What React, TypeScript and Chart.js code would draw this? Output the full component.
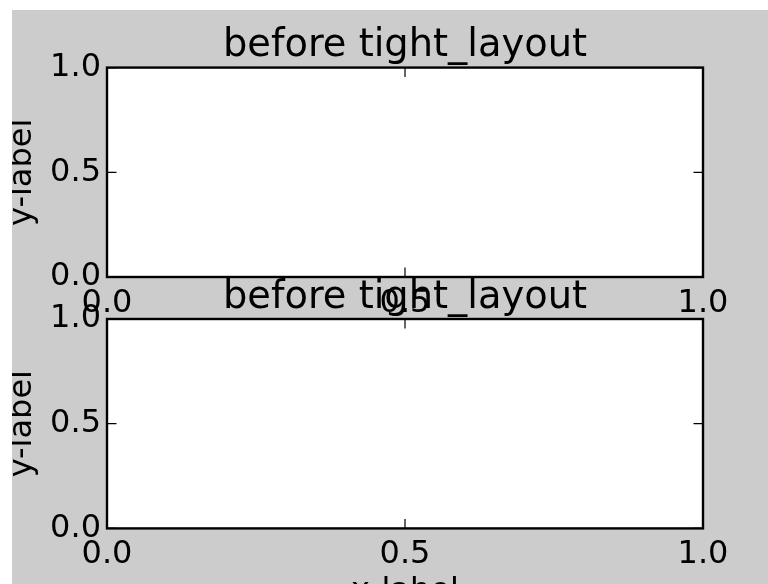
import React, { useEffect, useRef } from 'react';
import { Chart, registerables } from 'chart.js';

Chart.register(...registerables);

// ---- data ----
const titles = ['before tight_layout', 'before tight_layout'];
const xTickValues = [0.0, 0.5, 1.0];
const yTickValues = [0.0, 0.5, 1.0];
const xLimits = [0, 1];
const yLimits = [0, 1];
const xLabel = 'x-label';
const yLabel = 'y-label';
const points: { x: number; y: number }[] = [];

// ---- styling ----
const FONT = '"DejaVu Sans", sans-serif';
const FIG_BG = '#cccccc';
const CANVAS_W = 768;
const CANVAS_H = 620;
const TICK_SIZE = 32;
const TITLE_SIZE = 38.4;

type PanelLayout = { padTop: number; padBottom: number; xAxisH: number; showXLabel: boolean };
const panelLayouts: PanelLayout[] = [
  { padTop: 15.34, padBottom: 293, xAxisH: 60, showXLabel: false },
  { padTop: 266.76, padBottom: 11.6, xAxisH: 90, showXLabel: true },
];

const framePlugin = {
  id: 'mplFrame',
  beforeDraw(chart: any) {
    const { ctx, chartArea: a } = chart;
    ctx.save();
    ctx.fillStyle = '#ffffff';
    ctx.fillRect(a.left, a.top, a.right - a.left, a.bottom - a.top);
    ctx.restore();
  },
  afterDraw(chart: any) {
    const { ctx, chartArea: a, scales } = chart;
    const L = 9.5;
    ctx.save();
    ctx.strokeStyle = '#000';
    ctx.lineWidth = 1.2;
    ctx.beginPath();
    scales.x.ticks.forEach((t: any) => {
      const px = scales.x.getPixelForValue(t.value);
      ctx.moveTo(px, a.bottom);
      ctx.lineTo(px, a.bottom - L);
      ctx.moveTo(px, a.top);
      ctx.lineTo(px, a.top + L);
    });
    scales.y.ticks.forEach((t: any) => {
      const py = scales.y.getPixelForValue(t.value);
      ctx.moveTo(a.left, py);
      ctx.lineTo(a.left + L, py);
      ctx.moveTo(a.right, py);
      ctx.lineTo(a.right - L, py);
    });
    ctx.stroke();
    ctx.lineWidth = 2.4;
    ctx.strokeRect(a.left, a.top, a.right - a.left, a.bottom - a.top);
    ctx.restore();
  },
};

function Panel({ index }: { index: number }) {
  const ref = useRef<HTMLCanvasElement | null>(null);
  useEffect(() => {
    if (!ref.current) return;
    const lay = panelLayouts[index];
    const chart = new Chart(ref.current, {
      type: 'scatter',
      data: {
        datasets: [{ data: points, pointRadius: 0, showLine: false }],
      },
      options: {
        animation: false,
        responsive: false,
        maintainAspectRatio: false,
        devicePixelRatio: 1,
        events: [],
        layout: { padding: { left: 0, right: 77, top: lay.padTop, bottom: lay.padBottom } },
        plugins: {
          legend: { display: false },
          tooltip: { enabled: false },
          title: {
            display: true,
            text: titles[index],
            fullSize: false,
            color: '#000',
            font: { family: FONT, size: TITLE_SIZE, weight: 'normal', lineHeight: 1.1 },
            padding: { top: 0, bottom: 0 },
          },
        },
        scales: {
          x: {
            type: 'linear',
            min: xLimits[0],
            max: xLimits[1],
            grid: { display: false, drawTicks: false },
            border: { display: false },
            afterBuildTicks: (s: any) => {
              s.ticks = xTickValues.map((v) => ({ value: v }));
            },
            afterFit: (s: any) => {
              s.height = lay.xAxisH;
            },
            ticks: {
              color: '#000',
              padding: 7.5,
              autoSkip: false,
              maxRotation: 0,
              font: { family: FONT, size: TICK_SIZE, lineHeight: 1.2 },
              callback: (v: any) => Number(v).toFixed(1),
            },
            title: {
              display: lay.showXLabel,
              text: xLabel,
              color: '#000',
              font: { family: FONT, size: TICK_SIZE, lineHeight: 1.2 },
              padding: { top: 0, bottom: 8 },
            },
          },
          y: {
            type: 'linear',
            min: yLimits[0],
            max: yLimits[1],
            grid: { display: false, drawTicks: false },
            border: { display: false },
            afterBuildTicks: (s: any) => {
              s.ticks = yTickValues.map((v) => ({ value: v }));
            },
            afterFit: (s: any) => {
              s.width = 95;
            },
            ticks: {
              color: '#000',
              padding: 6,
              autoSkip: false,
              font: { family: FONT, size: TICK_SIZE, lineHeight: 1.2 },
              callback: (v: any) => Number(v).toFixed(1),
            },
            title: {
              display: true,
              text: yLabel,
              color: '#000',
              font: { family: FONT, size: TICK_SIZE, lineHeight: 0.656 },
              padding: 0,
            },
          },
        },
      },
      plugins: [framePlugin],
    } as any);
    return () => chart.destroy();
  }, [index]);
  return (
    <canvas
      ref={ref}
      width={CANVAS_W}
      height={CANVAS_H}
      style={{ position: 'absolute', left: 0, top: 0, width: CANVAS_W, height: CANVAS_H, display: 'block' }}
    />
  );
}

export default function App() {
  return (
    <div
      style={{
        position: 'fixed',
        left: 12,
        top: 10,
        width: 768,
        height: 576,
        background: FIG_BG,
        overflow: 'hidden',
      }}
    >
      <Panel index={0} />
      <Panel index={1} />
    </div>
  );
}
